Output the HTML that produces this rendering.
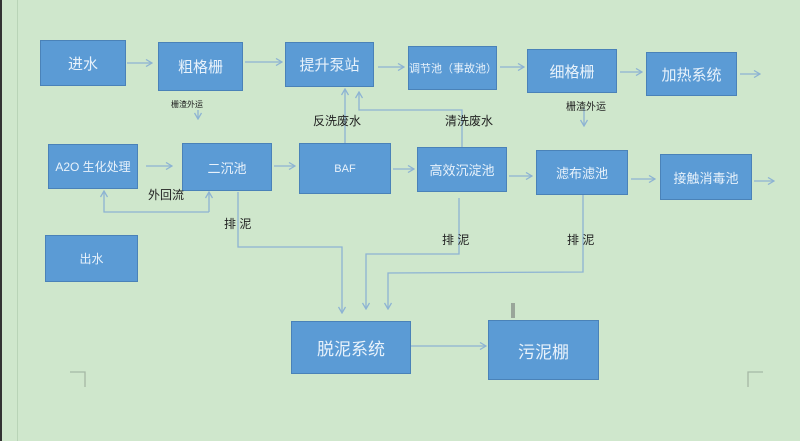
<!DOCTYPE html>
<html><head><meta charset="utf-8"><style>
body{margin:0;width:800px;height:441px;overflow:hidden;background:#cfe7cc;font-family:"Liberation Sans","Noto Sans CJK SC",sans-serif;position:relative}
.b{position:absolute;background:#5b9bd5;border:1px solid #4a82b8;box-sizing:border-box;color:#e8f2fb;display:flex;align-items:center;justify-content:center;font-size:14px}
.t{position:absolute;font-size:11px;color:#222;white-space:nowrap}
svg{position:absolute;left:0;top:0}
</style></head><body>
<div style="position:absolute;left:0;top:0;width:2px;height:441px;background:#333"></div>
<div style="position:absolute;left:17px;top:0;width:1px;height:441px;background:#b9d4b7"></div>
<div class="b" style="left:40px;top:40px;width:86px;height:46px;font-size:15px">进水</div>
<div class="b" style="left:158px;top:42px;width:85px;height:49px;font-size:15px">粗格栅</div>
<div class="b" style="left:285px;top:42px;width:89px;height:45px;font-size:15px">提升泵站</div>
<div class="b" style="left:408px;top:46px;width:89px;height:44px;font-size:11px">调节池（事故池）</div>
<div class="b" style="left:527px;top:49px;width:90px;height:44px;font-size:15px">细格栅</div>
<div class="b" style="left:646px;top:52px;width:91px;height:44px;font-size:15px">加热系统</div>
<div class="b" style="left:48px;top:144px;width:90px;height:45px;font-size:12px">A2O 生化处理</div>
<div class="b" style="left:182px;top:143px;width:90px;height:48px;font-size:13px">二沉池</div>
<div class="b" style="left:299px;top:143px;width:92px;height:51px;font-size:11px">BAF</div>
<div class="b" style="left:417px;top:147px;width:90px;height:45px;font-size:13px">高效沉淀池</div>
<div class="b" style="left:536px;top:150px;width:92px;height:45px;font-size:13px">滤布滤池</div>
<div class="b" style="left:660px;top:154px;width:92px;height:46px;font-size:13px">接触消毒池</div>
<div class="b" style="left:45px;top:235px;width:93px;height:47px;font-size:12px">出水</div>
<div class="b" style="left:291px;top:321px;width:120px;height:53px;font-size:17px">脱泥系统</div>
<div class="b" style="left:488px;top:320px;width:111px;height:60px;font-size:17px">污泥棚</div>
<div style="position:absolute;left:511px;top:303px;width:4px;height:15px;background:#9aa69a"></div>
<svg width="800" height="441" fill="none" stroke="#8db3d3" stroke-width="1.3">
<defs><marker id="a" markerWidth="8" markerHeight="8" refX="7" refY="4" orient="auto" markerUnits="userSpaceOnUse"><path d="M1,0.5 L7,4 L1,7.5" stroke="#8db3d3" fill="none"/></marker></defs>
<g marker-end="url(#a)">
<line x1="127" y1="63" x2="152" y2="63"/>
<line x1="245" y1="62" x2="282" y2="62"/>
<line x1="378" y1="67" x2="404" y2="67"/>
<line x1="500" y1="67" x2="524" y2="67"/>
<line x1="620" y1="72" x2="642" y2="72"/>
<line x1="740" y1="74" x2="760" y2="74"/>
<line x1="146" y1="166" x2="172" y2="166"/>
<line x1="274" y1="166" x2="295" y2="166"/>
<line x1="393" y1="169" x2="414" y2="169"/>
<line x1="509" y1="176" x2="532" y2="176"/>
<line x1="631" y1="179" x2="655" y2="179"/>
<line x1="754" y1="181" x2="774" y2="181"/>
<line x1="411" y1="346" x2="486" y2="346"/>
<line x1="198" y1="110" x2="198" y2="119"/>
<line x1="584" y1="108" x2="584" y2="126"/>
<line x1="345" y1="143" x2="345" y2="89"/>
<polyline points="462,147 462,110 359,110 359,92"/>
<polyline points="209,212 104,212 104,191"/>
<line x1="209" y1="212" x2="209" y2="192"/>
<polyline points="238,192 238,247 342,247 342,313"/>
<polyline points="459,198 459,254 366,254 366,309"/>
<polyline points="583,195 583,272 388,273 388,309"/>
</g>
<g stroke="#a5b8a5"><polyline points="70,372 85,372 85,387"/><polyline points="763,372 748,372 748,387"/></g>
</svg>
<div class="t" style="left:171px;top:99px;font-size:8px">栅渣外运</div>
<div class="t" style="left:566px;top:98px;font-size:10px">栅渣外运</div>
<div class="t" style="left:313px;top:112px;font-size:12px">反洗废水</div>
<div class="t" style="left:445px;top:112px;font-size:12px">清洗废水</div>
<div class="t" style="left:148px;top:186px;font-size:12px">外回流</div>
<div class="t" style="left:224px;top:215px;font-size:12px">排 泥</div>
<div class="t" style="left:442px;top:231px;font-size:12px">排 泥</div>
<div class="t" style="left:567px;top:231px;font-size:12px">排 泥</div>
</body></html>
